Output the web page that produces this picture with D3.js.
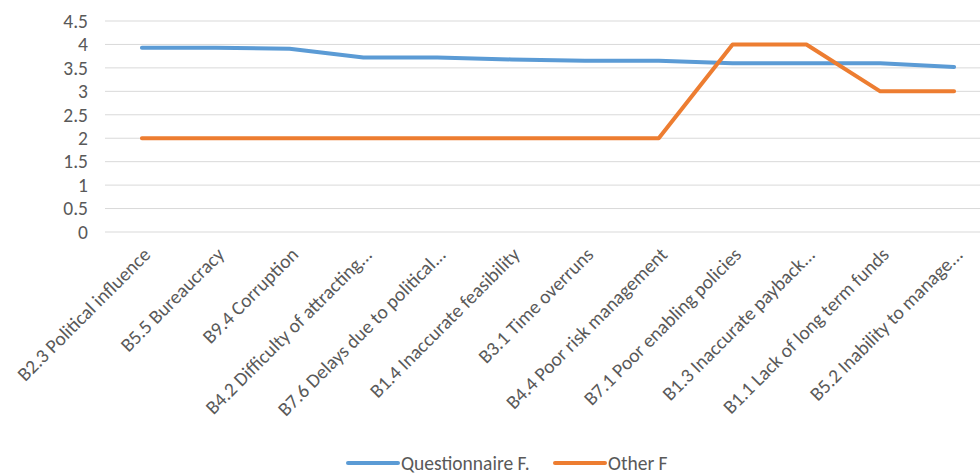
<!DOCTYPE html>
<html>
<head>
<meta charset="utf-8">
<script src="https://cdn.jsdelivr.net/npm/d3@7"></script>
<style>
  body { margin: 0; background: #fff; }
  svg text { font-family: Calibri, Carlito, "Liberation Sans", Arial, sans-serif; fill: #595959; }
</style>
</head>
<body>
<div id="chart"></div>
<script>
// categories along the x axis
const categories = [
  "B2.3 Political influence",
  "B5.5 Bureaucracy",
  "B9.4 Corruption",
  "B4.2 Difficulty of attracting...",
  "B7.6 Delays due to political...",
  "B1.4 Inaccurate feasibility",
  "B3.1 Time overruns",
  "B4.4 Poor risk management",
  "B7.1 Poor enabling policies",
  "B1.3 Inaccurate payback...",
  "B1.1 Lack of long term funds",
  "B5.2 Inability to manage..."
];
const questionnaire = [3.93, 3.93, 3.91, 3.72, 3.72, 3.68, 3.65, 3.65, 3.60, 3.60, 3.60, 3.52];
const other = [2, 2, 2, 2, 2, 2, 2, 2, 4, 4, 3, 3];
const yTicks = [0, 0.5, 1, 1.5, 2, 2.5, 3, 3.5, 4, 4.5];

const series = [
  { name: "Questionnaire F.", values: questionnaire, color: "#5B9BD5" },
  { name: "Other F", values: other, color: "#ED7D31" }
];

const width = 980, height = 475;

const svg = d3.select("#chart").append("svg")
  .attr("width", width)
  .attr("height", height);

const x = d3.scalePoint()
  .domain(categories)
  .range([105, 991])
  .padding(0.5);

const y = d3.scaleLinear()
  .domain([0, 4.5])
  .range([232, 21]);

// gridlines
svg.append("g")
  .selectAll("line")
  .data(yTicks)
  .enter()
  .append("line")
  .attr("x1", 105)
  .attr("x2", width)
  .attr("y1", d => y(d))
  .attr("y2", d => y(d))
  .attr("stroke", "#D9D9D9")
  .attr("stroke-width", 1);

// y axis labels
svg.append("g")
  .selectAll("text")
  .data(yTicks)
  .enter()
  .append("text")
  .attr("x", 88)
  .attr("y", d => y(d))
  .attr("dy", "0.35em")
  .attr("text-anchor", "end")
  .style("font-size", "19.5px")
  .text(d => d);

// x axis labels, rotated
svg.append("g")
  .selectAll("text")
  .data(categories)
  .enter()
  .append("text")
  .attr("transform", d => "translate(" + (x(d) + 5) + ",251) rotate(-45)")
  .attr("text-anchor", "end")
  .attr("dy", "0.35em")
  .style("font-size", "19.5px")
  .text(d => d);

// lines
const line = d3.line()
  .x((d, i) => x(categories[i]))
  .y(d => y(d));

svg.append("g")
  .selectAll("path")
  .data(series)
  .enter()
  .append("path")
  .attr("d", d => line(d.values))
  .attr("fill", "none")
  .attr("stroke", d => d.color)
  .attr("stroke-width", 4)
  .attr("stroke-linecap", "round")
  .attr("stroke-linejoin", "round");

// legend
const legendX = [348, 555];
const legend = svg.append("g")
  .selectAll("g")
  .data(series)
  .enter()
  .append("g")
  .attr("transform", (d, i) => "translate(" + legendX[i] + ",463)");

legend.append("line")
  .attr("x1", 0)
  .attr("x2", 50)
  .attr("stroke", d => d.color)
  .attr("stroke-width", 4)
  .attr("stroke-linecap", "round");

legend.append("text")
  .attr("x", 53)
  .attr("dy", "0.35em")
  .style("font-size", "19.5px")
  .text(d => d.name);
</script>
</body>
</html>
